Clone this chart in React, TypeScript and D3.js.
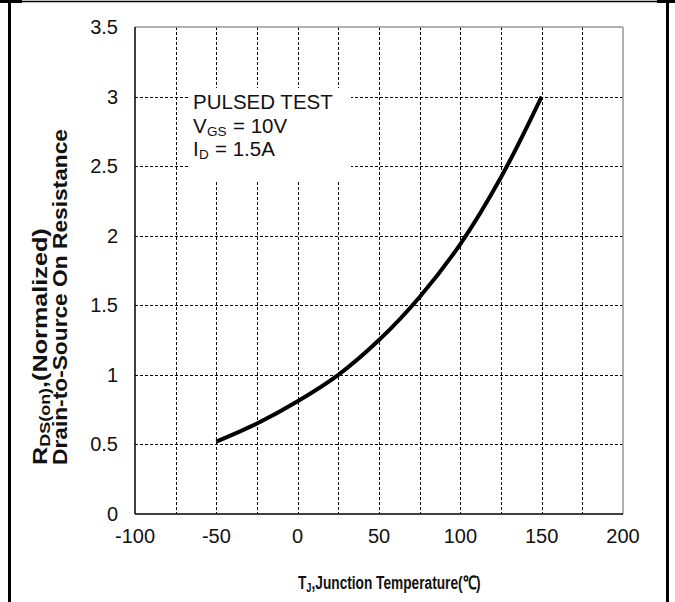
import React from "react";
import * as d3 from "d3";

// temperature (°C) and normalized RDS(on)
const tempC = [-50, -25, 0, 25, 50, 75, 100, 125, 150];
const rdsNorm = [0.52, 0.65, 0.81, 1.0, 1.25, 1.56, 1.94, 2.42, 3.0];

const xTicks = [-100, -50, 0, 50, 100, 150, 200];
const yTicks = [0, 0.5, 1, 1.5, 2, 2.5, 3, 3.5];
const xGrid = d3.range(-75, 200, 25);
const yGrid = [0.5, 1, 1.5, 2, 2.5, 3];

const width = 675;
const height = 602;
const font = "'Liberation Sans', Arial, sans-serif";

// snap 1px lines onto the pixel grid so they stay crisp
const px = (v: number) => Math.round(v) + 0.5;

const App = () => {
  const x = d3.scaleLinear().domain([-100, 200]).range([135, 623]);
  const y = d3.scaleLinear().domain([0, 3.5]).range([514, 27]);

  const line = d3
    .line<number>()
    .x((d, i) => x(tempC[i]))
    .y((d) => y(d))
    .curve(d3.curveCatmullRom.alpha(0.5));

  return (
    <svg
      width={width}
      height={height}
      style={{ position: "absolute", left: 0, top: 0, background: "#fff" }}
    >
      {/* outer frame */}
      <line x1={0} x2={width} y1={1.5} y2={1.5} stroke="#000" strokeWidth={1.5} />
      <rect x={0} y={0} width={22} height={3} fill="#000" />
      <rect x={657} y={0} width={18} height={3} fill="#000" />
      <rect x={8} y={0} width={3} height={height} fill="#000" />
      <rect x={666} y={0} width={3} height={height} fill="#000" />

      {/* grid */}
      {xGrid.map((t) => (
        <line
          key={"gx" + t}
          x1={px(x(t))}
          x2={px(x(t))}
          y1={y(3.5)}
          y2={y(0)}
          stroke="#000"
          strokeWidth={1}
          strokeDasharray="3,2"
        />
      ))}
      {yGrid.map((t) => (
        <line
          key={"gy" + t}
          x1={x(-100)}
          x2={x(200)}
          y1={px(y(t))}
          y2={px(y(t))}
          stroke="#000"
          strokeWidth={1}
          strokeDasharray="3,2"
        />
      ))}

      {/* plot border */}
      <line x1={x(-100)} x2={x(200)} y1={y(3.5)} y2={y(3.5)} stroke="#999" strokeWidth={1.5} />
      <line x1={x(200)} x2={x(200)} y1={y(3.5)} y2={y(0)} stroke="#999" strokeWidth={1.5} />
      <line x1={x(-100)} x2={x(-100)} y1={y(3.5)} y2={y(0)} stroke="#000" strokeWidth={1.5} />
      <line x1={x(-100)} x2={x(200)} y1={y(0)} y2={y(0)} stroke="#000" strokeWidth={1.5} />

      {/* legend box */}
      <rect x={190} y={88} width={161} height={92} fill="#fff" />
      <g fontFamily={font} fontSize={20.5} fill="#111">
        <text x={193} y={109}>PULSED TEST</text>
        <text x={193} y={133}>V</text>
        <text x={207} y={136} fontSize={13.5}>GS</text>
        <text x={233} y={133}>= 10V</text>
        <text x={193} y={156}>I</text>
        <text x={199} y={159} fontSize={13.5}>D</text>
        <text x={215} y={156}>= 1.5A</text>
      </g>

      {/* curve */}
      <path d={line(rdsNorm) ?? ""} fill="none" stroke="#000" strokeWidth={4} />

      {/* tick labels */}
      <g fontFamily={font} fontSize={20} fill="#111">
        {yTicks.map((t) => (
          <text key={"ty" + t} x={118} y={y(t) + 7} textAnchor="end">
            {t}
          </text>
        ))}
        {xTicks.map((t) => (
          <text key={"tx" + t} x={x(t)} y={543} textAnchor="middle">
            {t}
          </text>
        ))}
      </g>

      {/* axis titles */}
      <text
        transform="translate(298,589) scale(0.74,1)"
        fontFamily={font}
        fontWeight="bold"
        fontSize={18.5}
        fill="#111"
      >
        T<tspan fontSize={12.5} dy={3}>J</tspan>
        <tspan dy={-3}>,Junction Temperature(℃)</tspan>
      </text>
      <g fontFamily={font} fontWeight="bold" fontSize={21} fill="#111">
        <text transform="translate(47,465) rotate(-90) scale(1.2,1)">
          R<tspan fontSize={15} dy={3}>DS(on)</tspan>
          <tspan dy={-3}>,(Normalized)</tspan>
        </text>
        <text
          transform="translate(67,465) rotate(-90)"
          textLength={336}
          lengthAdjust="spacingAndGlyphs"
        >
          Drain-to-Source On Resistance
        </text>
      </g>
    </svg>
  );
};

export default App;
